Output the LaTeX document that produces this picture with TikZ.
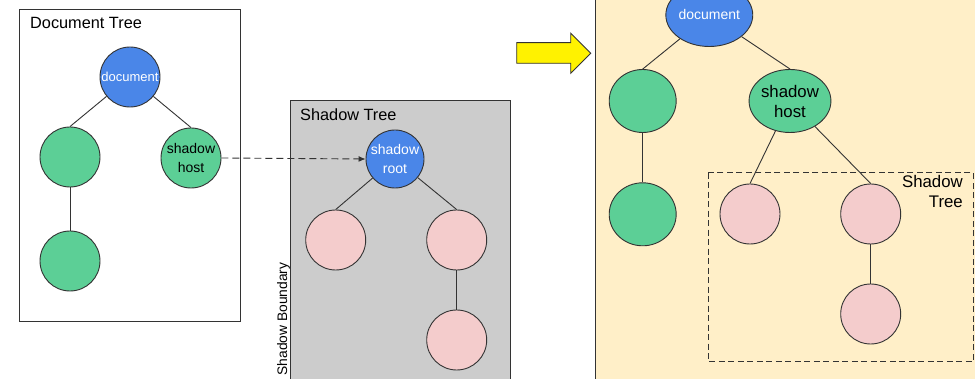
\documentclass[tikz,border=0pt]{standalone}
\usepackage{fontspec}
\setmainfont{Liberation Sans}
\usetikzlibrary{arrows.meta,shapes.geometric}
\definecolor{nblue}{HTML}{4A86E8}
\definecolor{ngreen}{HTML}{5CCF96}
\definecolor{npink}{HTML}{F4CCCC}
\definecolor{sgray}{HTML}{CCCCCC}
\definecolor{cream}{HTML}{FFEFC8}
\definecolor{lineg}{HTML}{333333}
\tikzset{
  nd/.style={circle,draw=lineg,line width=0.9pt,minimum size=60pt,inner sep=0pt,align=center},
  bignd/.style={ellipse,draw=lineg,line width=0.9pt,minimum width=67pt,minimum height=63pt,inner sep=0pt,align=center},
  bluend/.style={fill=nblue,text=white},
  greennd/.style={fill=ngreen},
  pinknd/.style={fill=npink},
  edge/.style={draw=lineg,line width=0.9pt},
  panel/.style={draw=lineg,line width=0.9pt},
  title/.style={font=\fontsize{16.3}{19}\selectfont,anchor=west,inner sep=0pt},
  lbl/.style={font=\fontsize{14}{18.5}\selectfont},
  biglbl/.style={font=\fontsize{16.8}{20}\selectfont},
}
\begin{document}
\begin{tikzpicture}[x=1pt,y=-1pt]
\useasboundingbox (0,0) rectangle (975,379);
\clip (0,0) rectangle (975,379);
\fill[white] (0,0) rectangle (975,379);
% Document tree panel
\draw[panel,fill=white] (19,9) rectangle (240,321);
\node[title] (dtt) at (30,23) {Document Tree};
\node[nd,bluend,font=\fontsize{13}{15}\selectfont] (doc) at (130,77) {document};
\node[nd,greennd] (dl) at (70,157) {};
\node[nd,greennd,lbl] (host) at (191,158) {shadow\\host};
\node[nd,greennd] (dlb) at (70,261) {};
\draw[edge] (doc) -- (dl.north);
\draw[edge] (doc) -- (host.north);
\draw[edge] (dl) -- (dlb);
% Shadow tree panel
\draw[panel,fill=sgray] (290.7,100) rectangle (510.7,390);
\node[title] (stt) at (300,115) {Shadow Tree};
\node[nd,bluend,lbl,minimum size=58pt] (sroot) at (395,159) {shadow\\root};
\node[nd,pinknd] (sl) at (335.7,240) {};
\node[nd,pinknd] (sr) at (456.7,240) {};
\node[nd,pinknd] (srb) at (456.7,340) {};
\draw[edge] (sroot) -- (sl.north);
\draw[edge] (sroot) -- (sr.north);
\draw[edge] (sr) -- (srb);
\draw[draw=lineg,line width=0.9pt,dash pattern=on 7pt off 4pt,-{Latex[length=7pt,width=6pt]}] (host.east) -- (sroot.west);
\node[rotate=90,font=\fontsize{13.8}{16}\selectfont,inner sep=0pt] (sb) at (283.5,319) {Shadow Boundary};
% yellow arrow
\draw[draw=lineg,line width=0.9pt,fill=yellow] (516.7,42.7) -- (570.7,42.7) -- (570.7,33.3) -- (590.7,53.3) -- (570.7,73.3) -- (570.7,63.3) -- (516.7,63.3) -- cycle;
% composed tree panel
\draw[panel,fill=cream] (595,-5) rectangle (990,390);
\draw[draw=lineg,line width=0.9pt,dash pattern=on 6pt off 3.5pt] (708.3,172.7) rectangle (973.3,361.7);
\node[font=\fontsize{16.8}{20.5}\selectfont,align=right,anchor=north east,inner sep=0pt] (stl) at (963,175) {Shadow\\Tree};
\node[bignd,bluend,font=\fontsize{14}{16}\selectfont] (rdoc) at (709.3,15) {document};
\node[bignd,greennd] (rl) at (642.7,101) {};
\node[bignd,greennd,biglbl] (rhost) at (790,101) {shadow\\host};
\node[bignd,greennd] (rlb) at (642.7,214.3) {};
\node[nd,pinknd] (rsl) at (750,214) {};
\node[nd,pinknd] (rsr) at (870.7,214) {};
\node[nd,pinknd] (rsrb) at (870.7,314) {};
\draw[edge] (rdoc) -- (rl.north);
\draw[edge] (rdoc) -- (rhost.north);
\draw[edge] (rl) -- (rlb);
\draw[edge] (rhost) -- (rsl.north);
\draw[edge] (rhost) -- (rsr.north);
\draw[edge] (rsr) -- (rsrb);
\end{tikzpicture}
\end{document}
